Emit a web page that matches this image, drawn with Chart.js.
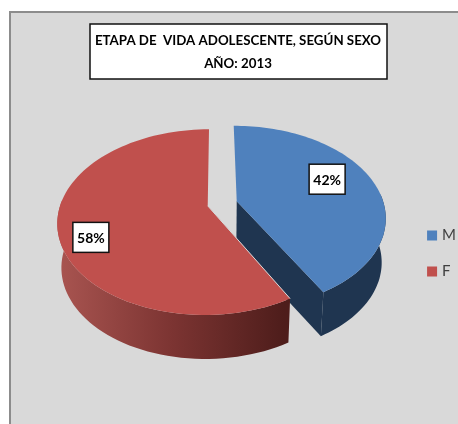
<!DOCTYPE html>
<html>
<head>
<meta charset="utf-8">
<style>html,body{margin:0;padding:0;background:#fff}canvas{display:block}</style>
<script src="https://cdn.jsdelivr.net/npm/chart.js@4/dist/chart.umd.js"></script>
</head>
<body>
<canvas id="c" width="458" height="424"></canvas>
<script>
const categories = ['M', 'F'];
const values = [42, 58];
const titleLines = ['ETAPA DE  VIDA ADOLESCENTE, SEGÚN SEXO', 'AÑO: 2013'];
const topColors = ['#4f81bd', '#c0504d'];

const PERSP = 0.174, TILT = 0.607, DEPTH = 44, BASE_SCALE = 0.975;
const SHIFT_X = 13, SHIFT_Y = -48;
const LABEL_SPOTS = [[0.65, -0.26], [-0.74, 0.33]];

function projector(el, offsetDir) {
  const R = el.outerRadius;
  const off = (el.options.offset || 0) / R;
  const cx = el.x + SHIFT_X, cy = el.y + SHIFT_Y;
  return function (u, v, base) {
    const uu = u + off * offsetDir[0], vv = v + off * offsetDir[1];
    const w = 1 - PERSP * vv;
    let X = R * uu / w, Y = R * TILT * vv / w;
    if (base) { X *= BASE_SCALE; Y += DEPTH; }
    return [cx + X, cy + Y];
  };
}
function arcPts(el, P, base, frontOnly) {
  const n = 90, pts = [];
  for (let i = 0; i <= n; i++) {
    const a = el.startAngle + (el.endAngle - el.startAngle) * i / n;
    if (frontOnly && Math.sin(a) < -0.1) continue;
    pts.push(P(Math.cos(a), Math.sin(a), base));
  }
  return pts;
}
function poly(ctx, pts, fill) {
  ctx.beginPath();
  pts.forEach((p, i) => i ? ctx.lineTo(p[0], p[1]) : ctx.moveTo(p[0], p[1]));
  ctx.closePath();
  ctx.fillStyle = fill;
  ctx.fill();
}

const frame = {
  id: 'frame',
  beforeDraw(chart) {
    const c = chart.ctx;
    c.save();
    c.fillStyle = '#ffffff'; c.fillRect(0, 0, 458, 424);
    c.fillStyle = '#d9d9d9'; c.fillRect(9, 11, 449, 413);
    c.fillStyle = '#8c8c8c'; c.fillRect(9, 11, 449, 2); c.fillRect(9, 11, 2, 413);
    c.fillStyle = '#ffffff'; c.fillRect(90, 24, 297, 55);
    c.strokeStyle = '#111111'; c.lineWidth = 1.5; c.strokeRect(90, 24, 297, 55);
    c.restore();
  },
  afterLayout(chart) {
    const l = chart.legend;
    l.left += 8; l.right += 8;
    l.top += 29; l.bottom += 29;
  }
};

const pie3d = {
  id: 'pie3d',
  beforeDatasetsDraw(chart) {
    const ctx = chart.ctx;
    const arcs = chart.getDatasetMeta(0).data;
    ctx.save();
    arcs.forEach((el, idx) => {
      const mid = (el.startAngle + el.endAngle) / 2;
      const P = projector(el, [Math.cos(mid), Math.sin(mid)]);
      const top = arcPts(el, P, false, false);
      const rimTop = arcPts(el, P, false, true), rimBot = arcPts(el, P, true, true);
      const sa = el.startAngle;
      let sideFill;
      if (idx === 0) {
        sideFill = '#1f3550';
        const wu = Math.cos(el.endAngle), wv = Math.sin(el.endAngle);
        poly(ctx, [P(0, 0, false), P(wu, wv, false), P(wu, wv, true), P(0, 0, true)], sideFill);
      } else {
        const g = ctx.createLinearGradient(60, 0, 284, 0);
        g.addColorStop(0, '#a85450');
        g.addColorStop(0.5, '#7c3432');
        g.addColorStop(1, '#4e1d1b');
        sideFill = g;
      }
      poly(ctx, rimTop.concat(rimBot.slice().reverse()), sideFill);
      poly(ctx, [P(0, 0, false)].concat(top), topColors[idx]);
      if (idx === 1) {
        const a = P(0, 0, false), b = P(Math.cos(sa), Math.sin(sa), false);
        ctx.beginPath(); ctx.moveTo(a[0], a[1]); ctx.lineTo(b[0], b[1]);
        ctx.strokeStyle = '#d9d9d9'; ctx.lineWidth = 1; ctx.stroke();
      }
    });
    arcs.forEach((el, idx) => {
      const mid = (el.startAngle + el.endAngle) / 2;
      const P = projector(el, [Math.cos(mid), Math.sin(mid)]);
      const s = P(LABEL_SPOTS[idx][0], LABEL_SPOTS[idx][1], false);
      const w = 36, h = 30;
      ctx.fillStyle = '#ffffff';
      ctx.fillRect(s[0] - w / 2, s[1] - h / 2, w, h);
      ctx.strokeStyle = '#111111'; ctx.lineWidth = 1.5;
      ctx.strokeRect(s[0] - w / 2, s[1] - h / 2, w, h);
      ctx.fillStyle = '#000000';
      ctx.font = 'bold 14px Lato';
      ctx.textAlign = 'center'; ctx.textBaseline = 'middle';
      ctx.fillText(values[idx] + '%', s[0], s[1] + 1);
    });
    ctx.restore();
    return false;
  }
};

new Chart(document.getElementById('c'), {
  type: 'pie',
  data: {
    labels: categories,
    datasets: [{ data: values, backgroundColor: topColors, borderWidth: 0, offset: 15, hoverOffset: 0, radius: 147, rotation: -0.4 }]
  },
  plugins: [frame, pie3d],
  options: {
    responsive: false,
    animation: false,
    layout: { padding: { left: 18, top: 25, right: 0, bottom: 0 } },
    plugins: {
      tooltip: { enabled: false },
      title: {
        display: true,
        text: titleLines,
        color: '#000000',
        font: { family: 'Lato', size: 13.3, weight: 'bold', lineHeight: 1.73 },
        padding: { top: 4, bottom: 4 }
      },
      legend: {
        position: 'right',
        labels: {
          boxWidth: 5, boxHeight: 5, padding: 21, color: '#404040',
          font: { family: 'Lato', size: 15 },
          generateLabels(chart) {
            return Chart.overrides.pie.plugins.legend.labels.generateLabels(chart)
              .map(i => ({ ...i, lineWidth: 5, strokeStyle: i.fillStyle }));
          }
        }
      }
    }
  }
});
</script>
</body>
</html>
